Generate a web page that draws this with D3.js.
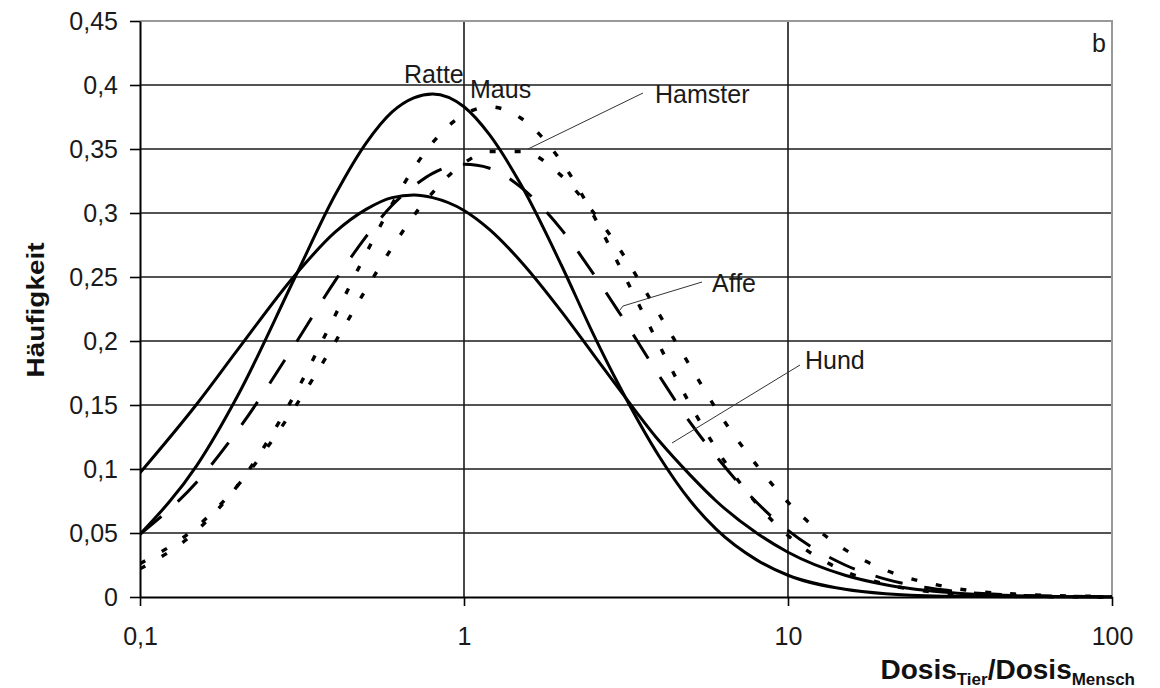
<!DOCTYPE html>
<html>
<head>
<meta charset="utf-8">
<script src="https://cdn.jsdelivr.net/npm/d3@7"></script>
<style>
  body { margin: 0; background: #fff; }
  svg { display: block; font-family: "Liberation Sans", Arial, sans-serif; }
</style>
</head>
<body>
<div id="chart"></div>
<script>
// dose ratio (animal/human), log axis
var doses = [0.1, 0.15, 0.2, 0.3, 0.4, 0.5, 0.6, 0.7, 0.8, 1, 1.2, 1.5, 2, 2.5, 3, 4, 5, 6, 8, 10, 15, 20, 30, 50, 100];

var ratte   = [0.049, 0.103, 0.157, 0.249, 0.314, 0.355, 0.379, 0.390, 0.393, 0.383, 0.361, 0.322, 0.259, 0.206, 0.166, 0.110, 0.075, 0.053, 0.029, 0.017, 0.006, 0.0025, 0.0006, 0.0001, 0];
var hund    = [0.097, 0.151, 0.193, 0.251, 0.285, 0.303, 0.312, 0.314, 0.312, 0.302, 0.287, 0.262, 0.223, 0.190, 0.163, 0.122, 0.095, 0.075, 0.050, 0.035, 0.017, 0.0096, 0.0039, 0.0011, 0.0002];
var affe    = [0.049, 0.090, 0.130, 0.197, 0.247, 0.282, 0.306, 0.321, 0.331, 0.338, 0.335, 0.320, 0.287, 0.253, 0.223, 0.173, 0.136, 0.110, 0.074, 0.052, 0.025, 0.014, 0.0056, 0.0015, 0.0002];
var maus    = [0.022, 0.052, 0.087, 0.158, 0.220, 0.269, 0.307, 0.335, 0.355, 0.377, 0.383, 0.374, 0.340, 0.299, 0.260, 0.197, 0.150, 0.116, 0.073, 0.048, 0.020, 0.010, 0.0032, 0.0006, 0];
var hamster = [0.026, 0.055, 0.087, 0.148, 0.199, 0.241, 0.273, 0.298, 0.316, 0.339, 0.348, 0.348, 0.329, 0.301, 0.273, 0.221, 0.180, 0.147, 0.103, 0.074, 0.037, 0.021, 0.0085, 0.0023, 0.0003];

var xTicks = [0.1, 1, 10, 100];
var yTicks = [0, 0.05, 0.1, 0.15, 0.2, 0.25, 0.3, 0.35, 0.4, 0.45];

// series: name, values, dash pattern
var series = [
  {name: "Hund", values: hund, dash: null},
  {name: "Ratte", values: ratte, dash: null},
  {name: "Affe", values: affe, dash: "28,22"},
  {name: "Maus", values: maus, dash: "6,19"},
  {name: "Hamster", values: hamster, dash: "6,19"}
];

// labels with leader lines (pixel positions of the annotation text)
var labels = [
  {text: "Ratte", x: 404, y: 83, line: null},
  {text: "Maus", x: 470, y: 98, line: null},
  {text: "Hamster", x: 655, y: 103, line: [[643, 93], [528, 149]]},
  {text: "Affe", x: 712, y: 292, line: [[702, 282], [623, 306], [620, 310]]},
  {text: "Hund", x: 805, y: 369, line: [[800, 365], [672, 443]]}
];

var width = 1160;
var height = 688;

var margin = {
  top: 21,
  bottom: 91,
  left: 140,
  right: 48
};

var svg = d3.select("#chart")
  .append("svg")
  .attr("width", width)
  .attr("height", height);

svg.append("rect")
  .attr("width", width)
  .attr("height", height)
  .attr("fill", "#fff");

var x = d3.scaleLog()
  .domain([0.1, 100])
  .range([margin.left, width - margin.right]);

var y = d3.scaleLinear()
  .domain([0, 0.45])
  .range([height - margin.bottom, margin.top]);

var fmt = function(d) { return String(d).replace(".", ","); };

// grid
svg.append("g")
  .selectAll("line")
  .data(yTicks.filter(function(d) { return d > 0 && d < 0.45; }))
  .enter().append("line")
  .attr("x1", x(0.1))
  .attr("x2", x(100))
  .attr("y1", function(d) { return y(d); })
  .attr("y2", function(d) { return y(d); })
  .attr("stroke", "#1a1a1a")
  .attr("stroke-width", 1.6);

svg.append("g")
  .selectAll("line")
  .data([1, 10])
  .enter().append("line")
  .attr("x1", function(d) { return x(d); })
  .attr("x2", function(d) { return x(d); })
  .attr("y1", y(0))
  .attr("y2", y(0.45))
  .attr("stroke", "#1a1a1a")
  .attr("stroke-width", 1.6);

// top and right border
svg.append("path")
  .attr("d", "M" + x(0.1) + "," + y(0.45) + "H" + x(100) + "V" + y(0))
  .attr("fill", "none")
  .attr("stroke", "#999")
  .attr("stroke-width", 2);

// curves
var line = d3.line()
  .x(function(d) { return x(d[0]); })
  .y(function(d) { return y(d[1]); })
  .curve(d3.curveMonotoneX);

svg.append("defs").append("clipPath")
  .attr("id", "plotClip")
  .append("rect")
  .attr("x", x(0.1))
  .attr("y", y(0.45))
  .attr("width", x(100) - x(0.1))
  .attr("height", y(0) - y(0.45) + 2);

svg.append("g")
  .attr("clip-path", "url(#plotClip)")
  .selectAll("path")
  .data(series)
  .enter().append("path")
  .attr("d", function(s) { return line(doses.map(function(d, i) { return [d, s.values[i]]; })); })
  .attr("fill", "none")
  .attr("stroke", "#000")
  .attr("stroke-width", function(s) { return s.dash == "6,19" ? 3.4 : 3; })
  .attr("stroke-dasharray", function(s) { return s.dash; });

// axes
var yAxis = svg.append("g")
  .attr("transform", "translate(" + x(0.1) + ",0)")
  .call(d3.axisLeft(y).tickValues(yTicks).tickFormat(fmt).tickSize(10).tickPadding(12).tickSizeOuter(0));

var xAxis = svg.append("g")
  .attr("transform", "translate(0," + y(0) + ")")
  .call(d3.axisBottom(x).tickValues(xTicks).tickFormat(fmt).tickSize(9).tickPadding(21).tickSizeOuter(0));

[yAxis, xAxis].forEach(function(ax) {
  ax.select(".domain").attr("stroke", "#000").attr("stroke-width", 2);
  ax.selectAll(".tick line").attr("stroke", "#000").attr("stroke-width", 1.6);
  ax.selectAll("text")
    .attr("fill", "#1a1a1a")
    .style("font-family", "'Liberation Sans', Arial, sans-serif")
    .style("font-size", "25px");
});

// axis titles
svg.append("text")
  .attr("transform", "translate(44,310) rotate(-90)")
  .attr("text-anchor", "middle")
  .attr("font-weight", "bold")
  .attr("font-size", 24)
  .attr("textLength", 135)
  .attr("lengthAdjust", "spacingAndGlyphs")
  .attr("fill", "#111")
  .text("Häufigkeit");

var xt = svg.append("text")
  .attr("x", 1135)
  .attr("y", 679)
  .attr("text-anchor", "end")
  .attr("font-weight", "bold")
  .attr("font-size", 28)
  .attr("fill", "#111");
xt.append("tspan").text("Dosis");
xt.append("tspan").attr("font-size", 17).attr("dy", 6).text("Tier");
xt.append("tspan").attr("dy", -6).text("/Dosis");
xt.append("tspan").attr("font-size", 17).attr("dy", 6).text("Mensch");

svg.append("text")
  .attr("x", 1106)
  .attr("y", 52)
  .attr("text-anchor", "end")
  .attr("font-size", 25)
  .attr("fill", "#1a1a1a")
  .text("b");

// annotations
svg.append("g")
  .selectAll("path")
  .data(labels.filter(function(l) { return l.line; }))
  .enter().append("path")
  .attr("d", function(l) { return d3.line()(l.line); })
  .attr("fill", "none")
  .attr("stroke", "#333")
  .attr("stroke-width", 1);

svg.append("g")
  .selectAll("text")
  .data(labels)
  .enter().append("text")
  .attr("x", function(l) { return l.x; })
  .attr("y", function(l) { return l.y; })
  .attr("font-size", 25)
  .attr("fill", "#1a1a1a")
  .text(function(l) { return l.text; });
</script>
</body>
</html>
